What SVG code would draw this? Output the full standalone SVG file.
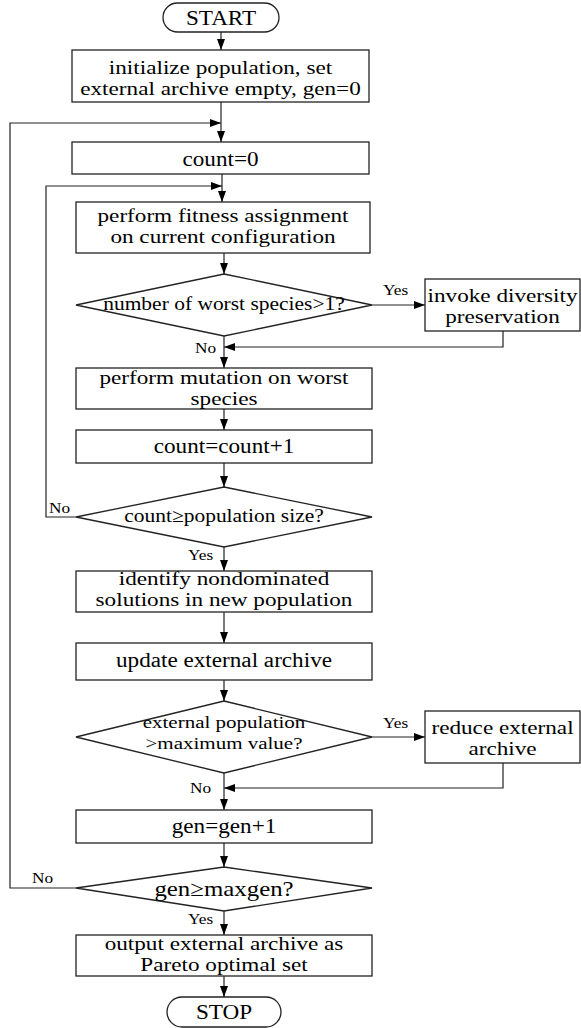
<svg xmlns="http://www.w3.org/2000/svg" width="581" height="1028" viewBox="0 0 581 1028">
<defs>
<marker id="ah" markerUnits="userSpaceOnUse" markerWidth="12" markerHeight="8" refX="11" refY="4" orient="auto">
<path d="M0,0 L11,4 L0,8 z" fill="#000"/>
</marker>
<style>
.b{fill:#fff;stroke:#222;stroke-width:1.3}
.c{fill:none;stroke:#222;stroke-width:1.2}
.a{marker-end:url(#ah)}
text{font-family:"Liberation Serif","Times New Roman",Times,serif;fill:#000}
.m{text-anchor:middle;font-size:20.5px}
.m2{text-anchor:middle;font-size:19px}
.d{text-anchor:middle;font-size:19px}
.d3{text-anchor:middle;font-size:17.5px}
.d4{text-anchor:middle;font-size:22px}
.l{font-size:15.3px}
</style>
</defs>
<rect width="581" height="1028" fill="#fff"/>
<g id="connectors">
<path class="c a" d="M221,32 V50"/>
<path class="c a" d="M221,102 V142"/>
<path class="c a" d="M222,174 V202"/>
<path class="c a" d="M224,253 V274"/>
<path class="c a" d="M372,305 H425"/>
<path class="c a" d="M503,331 V347 H224"/>
<path class="c a" d="M224,336 V368"/>
<path class="c a" d="M224,409 V430"/>
<path class="c a" d="M224,463 V487"/>
<path class="c a" d="M224,547 V571"/>
<path class="c a" d="M76,517 H46 V186 H222"/>
<path class="c a" d="M224,612 V643"/>
<path class="c a" d="M224,680 V701"/>
<path class="c a" d="M372,737 H425"/>
<path class="c a" d="M503,763 V788 H224"/>
<path class="c a" d="M224,773 V810"/>
<path class="c a" d="M224,843 V867"/>
<path class="c a" d="M76,888 H10 V123 H221"/>
<path class="c a" d="M224,911 V935"/>
<path class="c a" d="M224,976 V997"/>
<text class="l" transform="translate(383,295) scale(1.13,1)">Yes</text>
<text class="l" transform="translate(195,353) scale(1.13,1)">No</text>
<text class="l" transform="translate(49,513) scale(1.13,1)">No</text>
<text class="l" transform="translate(188,560) scale(1.13,1)">Yes</text>
<text class="l" transform="translate(383,728) scale(1.13,1)">Yes</text>
<text class="l" transform="translate(190,793) scale(1.13,1)">No</text>
<text class="l" transform="translate(32,883) scale(1.13,1)">No</text>
<text class="l" transform="translate(188,924) scale(1.13,1)">Yes</text>
</g>
<g id="start">
<rect class="b" x="163" y="3" width="116" height="29" rx="14.5"/>
<text class="m" transform="translate(221,25) scale(1.13,1)">START</text>
</g>
<g id="init">
<rect class="b" x="72" y="50" width="297" height="52"/>
<text class="m2" transform="translate(220.5,74) scale(1.22,1)">initialize population, set</text>
<text class="m2" transform="translate(220.5,95) scale(1.22,1)">external archive empty, gen=0</text>
</g>
<g id="count0">
<rect class="b" x="72" y="142" width="297" height="32"/>
<text class="m" transform="translate(220.5,166) scale(1.13,1)">count=0</text>
</g>
<g id="fitness">
<rect class="b" x="76" y="202" width="294" height="51"/>
<text class="m2" transform="translate(223,222) scale(1.22,1)">perform fitness assignment</text>
<text class="m2" transform="translate(223,243) scale(1.22,1)">on current configuration</text>
</g>
<g id="worst">
<polygon class="b" points="224,274 372,305 224,336 76,305"/>
<text class="d" transform="translate(224,310) scale(1.13,1)">number of worst species&gt;1?</text>
</g>
<g id="diversity">
<rect class="b" x="425" y="279" width="155" height="52"/>
<text class="m2" transform="translate(502.5,302) scale(1.22,1)">invoke diversity</text>
<text class="m2" transform="translate(502.5,323) scale(1.22,1)">preservation</text>
</g>
<g id="mutation">
<rect class="b" x="76" y="368" width="296" height="41"/>
<text class="m2" transform="translate(224,384) scale(1.22,1)">perform mutation on worst</text>
<text class="m2" transform="translate(224,405) scale(1.22,1)">species</text>
</g>
<g id="count1">
<rect class="b" x="76" y="430" width="296" height="33"/>
<text class="m" transform="translate(224,453) scale(1.13,1)">count=count+1</text>
</g>
<g id="popsize">
<polygon class="b" points="224,487 372,517 224,547 76,517"/>
<text class="d" transform="translate(224,522) scale(1.13,1)">count≥population size?</text>
</g>
<g id="identify">
<rect class="b" x="76" y="571" width="296" height="41"/>
<text class="m2" transform="translate(224,585) scale(1.22,1)">identify nondominated</text>
<text class="m2" transform="translate(224,606) scale(1.22,1)">solutions in new population</text>
</g>
<g id="update">
<rect class="b" x="76" y="643" width="296" height="37"/>
<text class="m" transform="translate(224,667) scale(1.13,1)">update external archive</text>
</g>
<g id="maxval">
<polygon class="b" points="224,701 372,737 224,773 76,737"/>
<text class="d3" transform="translate(224,728) scale(1.2,1)">external population</text>
<text class="d3" transform="translate(224,749) scale(1.2,1)">&gt;maximum value?</text>
</g>
<g id="reduce">
<rect class="b" x="425" y="711" width="155" height="52"/>
<text class="m2" transform="translate(502.5,734) scale(1.22,1)">reduce external</text>
<text class="m2" transform="translate(502.5,755) scale(1.22,1)">archive</text>
</g>
<g id="gen">
<rect class="b" x="76" y="810" width="296" height="33"/>
<text class="m" transform="translate(224,833) scale(1.13,1)">gen=gen+1</text>
</g>
<g id="maxgen">
<polygon class="b" points="224,867 372,888 224,911 76,888"/>
<text class="d4" transform="translate(224,896) scale(1.13,1)">gen≥maxgen?</text>
</g>
<g id="output">
<rect class="b" x="76" y="935" width="296" height="41"/>
<text class="m2" transform="translate(224,950) scale(1.22,1)">output external archive as</text>
<text class="m2" transform="translate(224,971) scale(1.22,1)">Pareto optimal set</text>
</g>
<g id="stop">
<rect class="b" x="167" y="997" width="114" height="30" rx="15"/>
<text class="m" transform="translate(224,1019) scale(1.13,1)">STOP</text>
</g>
</svg>
